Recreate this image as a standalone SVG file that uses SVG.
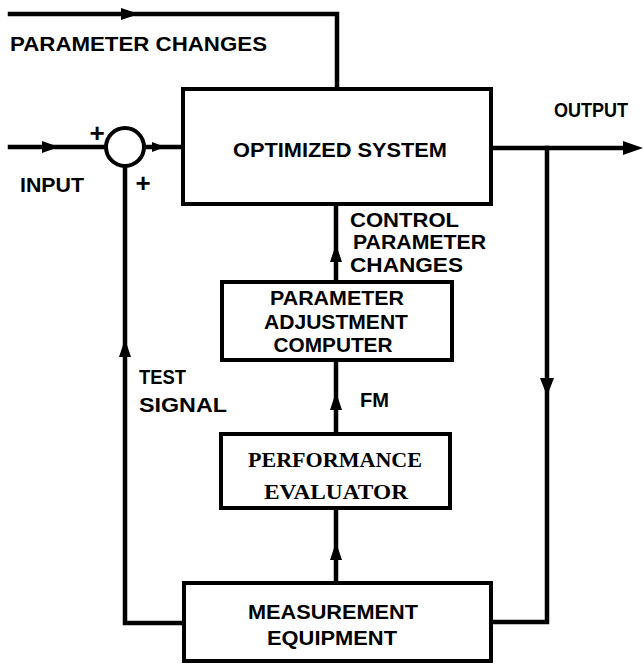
<svg xmlns="http://www.w3.org/2000/svg" width="643" height="664" viewBox="0 0 643 664">
<defs>
<style>
.ln{fill:none;stroke:#000;stroke-width:4.5;stroke-linejoin:miter;stroke-linecap:square}
.ah{fill:#000;stroke:none}
.bx{fill:#fff;stroke:#000;stroke-width:4}
.t{font-family:"Liberation Sans","DejaVu Sans",sans-serif;font-weight:bold;font-size:21px;fill:#000}
.p{font-family:"Liberation Sans","DejaVu Sans",sans-serif;font-weight:bold;font-size:26px;fill:#000}
.s{font-family:"Liberation Serif","DejaVu Serif",serif;font-weight:bold;font-size:22px;fill:#000}
</style>
</defs>
<rect width="643" height="664" fill="#fff"/>
<g id="connectors">
<path class="ln" d="M10,14 L337,14 L337,89"/>
<path class="ln" d="M10,147 L107,147"/>
<path class="ln" d="M144,147 L183,147"/>
<path class="ln" d="M491,148 L630,148"/>
<path class="ln" d="M547,148 L547,622 L491,622"/>
<path class="ln" d="M184,623 L125,623 L125,165"/>
<path class="ln" d="M336,583 L336,507"/>
<path class="ln" d="M336,434 L336,360"/>
<path class="ln" d="M336,282 L336,204"/>
<polygon class="ah" points="139,14 121,8 121,20"/>
<polygon class="ah" points="59,147 42,141 42,153"/>
<polygon class="ah" points="165,147 152,142 152,152"/>
<polygon class="ah" points="643,148 623,141 623,155"/>
<polygon class="ah" points="547,396 540,378 554,378"/>
<polygon class="ah" points="125,339 119,357 131,357"/>
<polygon class="ah" points="336,542 330,560 342,560"/>
<polygon class="ah" points="336,392 330,410 342,410"/>
<polygon class="ah" points="336,244 330,262 342,262"/>
</g>
<g id="summer">
<circle cx="125" cy="147" r="19" fill="#fff" stroke="#000" stroke-width="4"/>
<text class="p" x="97" y="142" text-anchor="middle">+</text>
<text class="p" x="143" y="192" text-anchor="middle">+</text>
</g>
<g id="optimized-system">
<rect class="bx" x="183" y="89" width="308" height="115"/>
<text class="t" x="340" y="157" text-anchor="middle" textLength="214" lengthAdjust="spacingAndGlyphs">OPTIMIZED SYSTEM</text>
</g>
<g id="parameter-adjustment-computer">
<rect class="bx" x="222" y="282" width="230" height="78"/>
<text class="t" x="337" y="305" text-anchor="middle" textLength="134" lengthAdjust="spacingAndGlyphs">PARAMETER</text>
<text class="t" x="336" y="329" text-anchor="middle" textLength="144" lengthAdjust="spacingAndGlyphs">ADJUSTMENT</text>
<text class="t" x="333" y="352" text-anchor="middle" textLength="119" lengthAdjust="spacingAndGlyphs">COMPUTER</text>
</g>
<g id="performance-evaluator">
<rect class="bx" x="221" y="434" width="229" height="74"/>
<text class="s" x="335" y="467" text-anchor="middle" textLength="174" lengthAdjust="spacingAndGlyphs">PERFORMANCE</text>
<text class="s" x="336" y="499" text-anchor="middle" textLength="144" lengthAdjust="spacingAndGlyphs">EVALUATOR</text>
</g>
<g id="measurement-equipment">
<rect class="bx" x="184" y="583" width="307" height="78"/>
<text class="t" x="333" y="619" text-anchor="middle" textLength="170" lengthAdjust="spacingAndGlyphs">MEASUREMENT</text>
<text class="t" x="332" y="645" text-anchor="middle" textLength="130" lengthAdjust="spacingAndGlyphs">EQUIPMENT</text>
</g>
<g id="labels">
<text class="t" x="10" y="51" textLength="257" lengthAdjust="spacingAndGlyphs">PARAMETER CHANGES</text>
<text class="t" x="20" y="192" textLength="64" lengthAdjust="spacingAndGlyphs">INPUT</text>
<text class="t" x="554" y="117" font-size="19" textLength="74" lengthAdjust="spacingAndGlyphs">OUTPUT</text>
<text class="t" x="350" y="227" textLength="109" lengthAdjust="spacingAndGlyphs">CONTROL</text>
<text class="t" x="353" y="249" textLength="133" lengthAdjust="spacingAndGlyphs">PARAMETER</text>
<text class="t" x="350" y="272" textLength="113" lengthAdjust="spacingAndGlyphs">CHANGES</text>
<text class="t" x="139" y="384" textLength="47" lengthAdjust="spacingAndGlyphs">TEST</text>
<text class="t" x="139" y="412" textLength="88" lengthAdjust="spacingAndGlyphs">SIGNAL</text>
<text class="t" x="360" y="407" textLength="29" lengthAdjust="spacingAndGlyphs">FM</text>
</g>
</svg>
